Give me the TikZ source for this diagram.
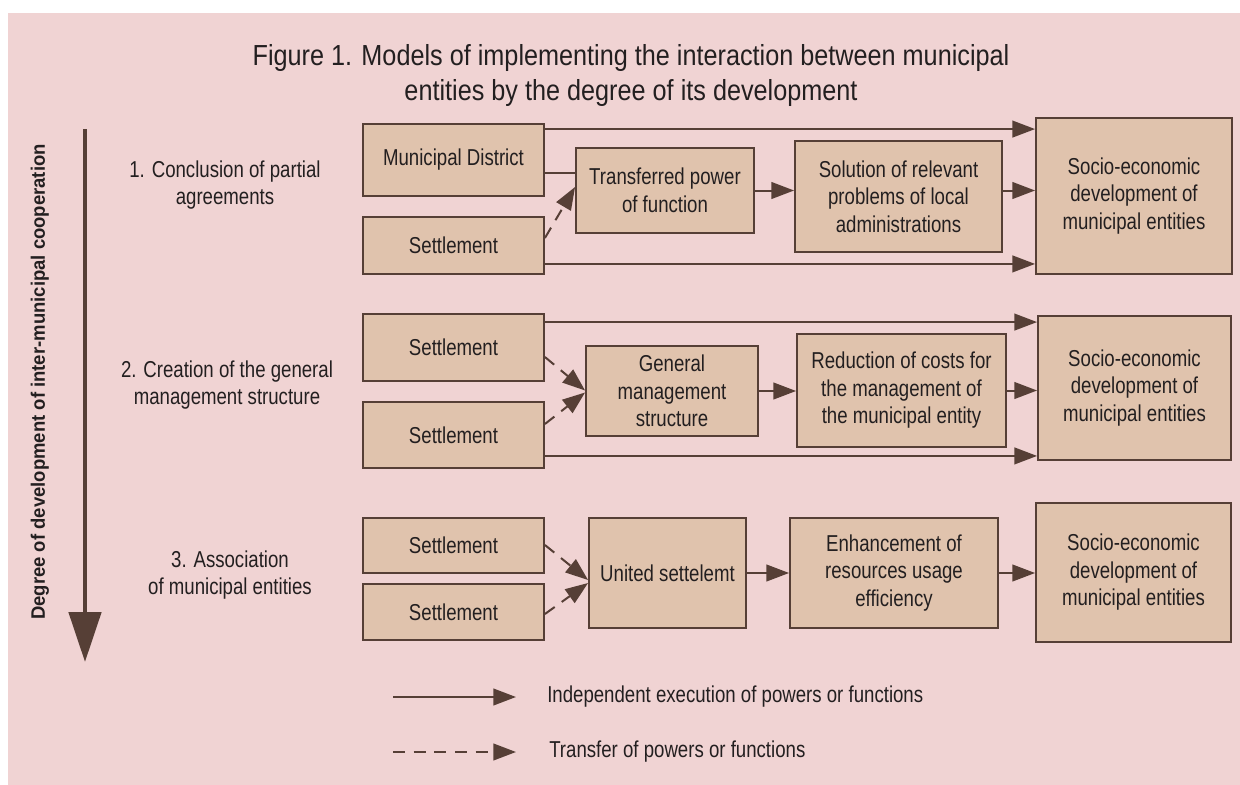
\documentclass[tikz,border=0pt]{standalone}
\usepackage{fontspec}
\setmainfont{Liberation Sans}[FakeStretch=0.81]
\newfontfamily\titlefont{Liberation Sans}[FakeStretch=0.87]
\newfontfamily\axisfont{Liberation Sans}[FakeStretch=0.95]
\usetikzlibrary{arrows.meta,calc}

\definecolor{panel}{HTML}{F0D3D3}
\definecolor{boxfill}{HTML}{E0C3AD}
\definecolor{edge}{HTML}{563F36}
\definecolor{ink}{HTML}{231F20}

% box given by its corners in pixel units: name, x1, y1, x2, y2, text
\newcommand{\mkbox}[6]{%
  \node[blockbox, minimum width={(#4-#2)*0.75pt}, minimum height={(#5-#3)*0.75pt}]
    (#1) at ({(#2+#4)/2},{(#3+#5)/2}) {#6};}

\tikzset{
  maintext/.style={font=\fontsize{17.25}{20.6}\selectfont, text=ink},
  blockbox/.style={maintext, draw=edge, fill=boxfill, line width=1.4pt,
    inner sep=0pt, align=center},
  sidelabel/.style={maintext, align=center, inner sep=0pt,
    font=\fontsize{17.25}{20.25}\selectfont},
  legendtext/.style={maintext, anchor=west, inner sep=0pt},
  plainline/.style={draw=edge, line width=1.5pt},
  indep/.style={plainline, -{Triangle[length=17pt,width=12.5pt]}},
  transfer/.style={indep, dash pattern=on 9pt off 6.5pt},
}

\begin{document}
\begin{tikzpicture}[x=0.75pt, y=-0.75pt]
\useasboundingbox (0,0) rectangle (1240,785);
\fill[white] (0,0) rectangle (1240,785);
\fill[panel] (8,13) rectangle (1240,785);

% title
\node[font=\titlefont\fontsize{21.75}{25.7}\selectfont, text=ink, align=center]
  (title) at (631,75.5)
  {Figure 1. Models of implementing the interaction between municipal\\
   entities by the degree of its development};

% development axis
\coordinate (axtop) at (85,129);
\coordinate (axbot) at (85,662);
\draw[draw=edge, line width=3.6pt, -{Triangle[length=37.5pt,width=24pt]}]
  (axtop) -- (axbot);
\node[rotate=90, text=ink, font=\axisfont\bfseries\fontsize{14.6}{17}\selectfont]
  (axlabel) at (40,382) {Degree of development of inter-municipal cooperation};

% stage labels
\node[sidelabel] (stage1) at (225,185.5) {1. Conclusion of partial\\agreements};
\node[sidelabel] (stage2) at (227,385.5) {2. Creation of the general\\management structure};
\node[sidelabel] (stage3) at (230,575) {3. Association\\of municipal entities};

% stage 1
\mkbox{md}{363}{124}{544}{196}{Municipal District}
\mkbox{s1}{363}{217}{544}{274}{Settlement}
\mkbox{tp}{576}{148}{754}{233}{Transferred power\\of function}
\mkbox{sol}{795}{141}{1002}{252}{Solution of relevant\\problems of local\\administrations}
\mkbox{so1}{1036}{118}{1232}{274}{Socio-economic\\development of\\municipal entities}

% stage 2
\mkbox{s2a}{363}{314}{544}{381}{Settlement}
\mkbox{s2b}{363}{402}{544}{468}{Settlement}
\mkbox{gm}{586}{346}{758}{436}{General\\management\\structure}
\mkbox{red}{797}{334}{1006}{447}{Reduction of costs for\\the management of\\the municipal entity}
\mkbox{so2}{1038}{316}{1231}{460}{Socio-economic\\development of\\municipal entities}

% stage 3
\mkbox{s3a}{363}{518}{544}{573}{Settlement}
\mkbox{s3b}{363}{584}{544}{640}{Settlement}
\mkbox{us}{589}{518}{746}{628}{United settelemt}
\mkbox{enh}{790}{518}{998}{628}{Enhancement of\\resources usage\\efficiency}
\mkbox{so3}{1036}{503}{1231}{642}{Socio-economic\\development of\\municipal entities}

% connector end points on the box edges
\coordinate (r1top) at ($(md.north east)+(0,6)$);
\coordinate (r1mid) at ($(md.east)+(0,13)$);
\coordinate (r1dash) at ($(s1.east)+(0,-7.5)$);
\coordinate (r1dtip) at ($(tp.west)+(0,-3.5)$);
\coordinate (r1bot) at ($(s1.south east)+(0,-11)$);
\coordinate (r2top) at ($(s2a.north east)+(0,9)$);
\coordinate (r2da) at ($(s2a.east)+(0,9.5)$);
\coordinate (r2db) at ($(s2b.east)+(0,-11)$);
\coordinate (r2ta) at ($(gm.west)+(0,-0.5)$);
\coordinate (r2tb) at ($(gm.west)+(0,1.5)$);
\coordinate (r2bot) at ($(s2b.south east)+(0,-13)$);
\coordinate (r3da) at ($(s3a.east)+(0,-0.5)$);
\coordinate (r3db) at ($(s3b.east)+(0,2)$);
\coordinate (r3ta) at ($(us.west)+(0,7)$);
\coordinate (r3tb) at ($(us.west)+(0,10)$);

% stage 1 connectors
\draw[indep] (r1top) -- (r1top -| so1.west);
\draw[plainline] (r1mid) -- (r1mid -| tp.west);
\draw[transfer] (r1dash) -- (r1dtip);
\draw[indep] (r1bot) -- (r1bot -| so1.west);
\draw[indep] (tp.east) -- (tp.east -| sol.west);
\draw[indep] (tp.east -| sol.east) -- (tp.east -| so1.west);

% stage 2 connectors
\draw[indep] (r2top) -- (r2top -| so2.west);
\draw[transfer] (r2da) -- (r2ta);
\draw[transfer] (r2db) -- (r2tb);
\draw[indep] (r2bot) -- (r2bot -| so2.west);
\draw[indep] (gm.east) -- (gm.east -| red.west);
\draw[indep] (red.east) -- (red.east -| so2.west);

% stage 3 connectors
\draw[transfer] (r3da) -- (r3ta);
\draw[transfer] (r3db) -- (r3tb);
\draw[indep] (us.east) -- (us.east -| enh.west);
\draw[indep] (enh.east) -- (enh.east -| so3.west);

% legend
\coordinate (lg1a) at (393,697);
\coordinate (lg1b) at (516,697);
\coordinate (lg2a) at (393,752);
\coordinate (lg2b) at (516,752);
\draw[indep] (lg1a) -- (lg1b);
\draw[transfer] (lg2a) -- (lg2b);
\node[legendtext] (lg1text) at (547,697) {Independent execution of powers or functions};
\node[legendtext] (lg2text) at (549,752) {Transfer of powers or functions};
\end{tikzpicture}
\end{document}
